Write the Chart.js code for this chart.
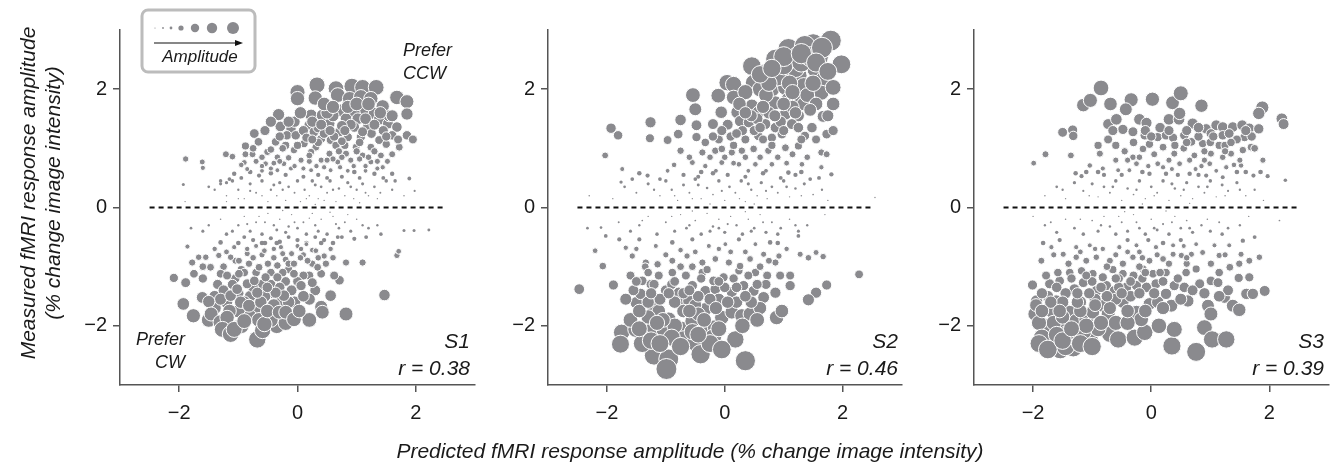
<!DOCTYPE html>
<html>
<head>
<meta charset="utf-8">
<script src="https://cdn.jsdelivr.net/npm/chart.js@4.4.1/dist/chart.umd.min.js"></script>
<style>
body { margin: 0; background: #fff; }
#wrap { position: relative; width: 1338px; height: 465px; overflow: hidden; font-family: "Liberation Sans", Arial, sans-serif; color: #1a1a1a; }
canvas { position: absolute; top: 0; }
.t { position: absolute; font-style: italic; white-space: nowrap; line-height: 1; }
</style>
</head>
<body>
<div id="wrap">
  <canvas id="c1" width="435" height="465"></canvas>
  <canvas id="c2" width="435" height="465"></canvas>
  <canvas id="c3" width="435" height="465"></canvas>

  <div class="t" id="ytitle" style="left:-140px; top:168px; width:360px; height:50px; font-size:21px; line-height:25px; text-align:center; transform:rotate(-90deg);">Measured fMRI response amplitude<br>(% change image intensity)</div>
  <div class="t" style="left:390px; top:440px; width:600px; text-align:center; font-size:21px;">Predicted fMRI response amplitude (% change image intensity)</div>

  <div class="t" style="left:150px; top:48px; width:100px; text-align:center; font-size:17px;">Amplitude</div>
  <div class="t" style="left:403px; top:41px; font-size:18px;">Prefer<br><span style="display:inline-block; margin-top:5px;">CCW</span></div>
  <div class="t" style="left:105px; top:330px; width:80px; text-align:right; font-size:18px;">Prefer<br><span style="display:inline-block; margin-top:5px;">CW</span></div>

  <div class="t" id="lab1" style="top:330px; width:120px; text-align:right; font-size:21px;"></div>
  <div class="t" id="lab2" style="top:330px; width:120px; text-align:right; font-size:21px;"></div>
  <div class="t" id="lab3" style="top:330px; width:120px; text-align:right; font-size:21px;"></div>
</div>

<script>
// subjects and their correlation values
const panelNames = ['S1', 'S2', 'S3'];
const rValues = [0.38, 0.46, 0.39];
const tickValues = [-2, 0, 2];
const zeroLine = [-2.5, 2.5];

const s1Points = [
  [0.33,2.07],[0.65,2.01],[0.92,2.05],[1.10,2.03],[1.33,2.03],[0.68,1.90],[0.88,1.84],[1.07,1.87],[1.24,1.84],[1.68,1.86],
  [1.85,1.79],[1.85,1.58],[0.00,1.95],[0.00,1.84],[1.44,1.71],[0.73,1.64],[0.96,1.62],[1.16,1.64],[1.30,1.59],[-0.32,1.57],
  [0.23,1.56],[0.42,1.56],[0.54,1.42],[0.82,1.50],[1.02,1.50],[1.38,1.49],[-0.29,1.37],[-0.11,1.33],[0.20,1.39],[0.28,1.28],
  [0.71,1.28],[0.96,1.36],[1.19,1.37],[1.53,1.42],[1.68,1.36],[-0.73,1.25],[-0.18,1.22],[-0.03,1.22],[0.40,1.16],[0.56,1.14],
  [0.85,1.19],[1.07,1.19],[1.38,1.14],[1.60,1.22],[1.85,1.22],[1.95,1.15],[-0.66,1.11],[-0.37,1.11],[0.11,1.08],[0.31,1.02],
  [0.65,1.05],[0.99,1.02],[1.24,1.02],[1.50,1.07],[1.72,1.02],[-0.88,1.04],[-0.51,0.94],[-0.06,0.97],[0.23,0.94],[0.54,0.91],
  [0.82,0.91],[1.10,0.88],[1.41,0.88],[-1.21,0.90],[-1.10,0.86],[-0.88,0.90],[-0.76,0.90],[-1.89,0.82],[-1.61,0.77],[-1.60,0.67],
  [-0.90,0.76],[-0.54,0.74],[-0.34,0.85],[-0.23,0.74],[0.06,0.80],[0.40,0.80],[0.68,0.77],[0.90,0.80],[1.24,0.77],[1.60,0.57],
  [1.44,0.68],[-1.07,0.57],[-0.65,0.54],[-0.34,0.63],[-0.11,0.66],[0.23,0.63],[0.56,0.63],[0.96,0.60],[1.30,0.57],[1.89,0.49],
  [-1.93,0.39],[1.98,0.28],[-1.30,0.45],[-1.20,0.42],[-1.15,0.48],[-0.95,0.50],[-0.80,0.60],[-0.60,0.62],[-0.45,0.58],[-0.20,0.55],
  [0.10,0.52],[0.35,0.55],[0.50,0.50],[0.75,0.52],[0.85,0.62],[1.05,0.50],[1.15,0.62],[1.45,0.50],[1.65,0.45],
  [-0.95,0.72],[-0.85,0.65],[-0.70,0.78],[-0.60,0.70],[-0.45,0.66],[-0.30,0.78],[-0.15,0.84],[-0.05,0.70],[0.10,0.66],[0.20,0.78],
  [0.32,0.70],[0.45,0.68],[0.60,0.82],[0.72,0.68],[0.95,0.70],[1.05,0.82],[1.15,0.70],[1.35,0.66],[1.52,0.78],
  [-0.55,1.30],[-0.45,1.45],[-0.05,1.45],[0.10,1.30],[0.35,1.35],[0.45,1.25],[0.60,1.55],[0.62,1.20],[0.80,1.05],[0.90,1.40],
  [1.15,1.50],[1.25,1.25],[1.45,1.30],[1.55,1.55],[-0.20,1.05],[-0.45,0.98],
  [0.25,1.45],[0.50,1.60],[0.55,1.30],[0.75,1.38],[0.85,1.70],[1.00,1.75],[1.20,1.75],[1.10,1.28],[1.30,1.40],[1.50,1.20],
  [1.70,1.15],[0.15,1.18],[0.35,1.10],[0.75,1.12],[1.00,0.95],[1.30,0.95],[1.60,0.90],[-0.25,1.00],[0.00,1.05],[-0.60,0.85],
  [-0.30,1.20],[0.20,0.88],[0.50,0.80],[0.75,0.85],[1.35,0.78],
  [0.30,1.85],[0.45,1.75],[0.60,1.70],[0.80,1.30],[1.40,1.60],[1.60,1.55],[0.40,1.40],[1.05,1.10],[0.25,1.15],[-0.15,1.45],
  [0.05,1.60],[0.70,0.95],[1.20,0.85],[-0.75,1.00],[-0.40,0.75],
  [-1.50,0.35],[-1.40,0.30],[-1.30,0.40],[-1.20,0.20],[-1.10,0.45],[-1.00,0.30],[-0.90,0.15],[-0.80,0.40],[-0.70,0.25],[-0.60,0.45],
  [-0.50,0.10],[-0.45,0.30],[-0.35,0.20],[-0.30,0.42],[-0.20,0.12],[-0.15,0.35],[-0.05,0.25],[0.00,0.45],[0.05,0.10],[0.12,0.30],
  [0.20,0.20],[0.25,0.45],[0.35,0.15],[0.40,0.35],[0.50,0.25],[0.55,0.45],[0.65,0.10],[0.70,0.32],[0.80,0.20],[0.85,0.42],
  [0.95,0.15],[1.00,0.30],[1.10,0.40],[1.20,0.20],[1.30,0.35],[1.40,0.25],[1.50,0.45],[1.60,0.30],[1.80,0.20],[-1.90,0.10],
  [-1.20,0.10],[0.30,0.05],[1.05,0.08],
  [-1.00,0.15],[-0.60,0.20],[-0.25,0.30],[0.15,0.15],[0.45,0.12],[0.60,0.30],[0.90,0.35],[1.15,0.25],[1.35,0.15],[-0.80,0.28],
  [-0.40,0.38],[0.30,0.38],
  [-1.80,-0.35],[-1.60,-0.40],[-1.50,-0.30],[-1.30,-0.20],[-1.20,-0.45],[-1.00,-0.30],[-0.90,-0.15],[-0.80,-0.40],[-0.70,-0.25],[-0.60,-0.45],
  [-0.50,-0.10],[-0.40,-0.30],[-0.30,-0.20],[-0.20,-0.42],[-0.10,-0.12],[0.00,-0.35],[0.10,-0.25],[0.15,-0.45],[0.25,-0.10],[0.30,-0.30],
  [0.40,-0.20],[0.50,-0.45],[0.60,-0.15],[0.70,-0.35],[0.80,-0.25],[0.90,-0.40],[1.00,-0.20],[1.20,-0.35],[1.35,-0.30],[1.80,-0.39],
  [1.97,-0.39],[2.22,-0.38],[-0.25,-0.05],[0.55,-0.08],
  [-0.55,-0.25],[-0.35,-0.38],[-0.05,-0.25],[0.20,-0.18],[0.35,-0.40],[0.65,-0.28],[0.85,-0.12],[-0.85,-0.28],[-1.10,-0.40],[-0.15,-0.32],
  [1.10,-0.30],[-0.65,-0.15],
  [-0.90,-0.50],[-0.75,-0.55],[-0.60,-0.60],[-0.45,-0.52],[-0.30,-0.58],[-0.15,-0.50],[0.00,-0.55],[0.15,-0.60],[0.30,-0.50],[0.45,-0.55],
  [0.60,-0.60],[0.75,-0.50],[-0.40,-0.85],[-0.20,-0.88],[0.10,-0.80],[0.60,-0.85],[-0.95,-1.05],[-0.15,-1.05],[0.20,-1.15],[-0.45,-1.30],
  [0.30,-1.40],[-0.30,-1.60],[-0.05,-1.60],[0.20,-1.55],[-0.70,-1.75],[-1.00,-1.75],
  [-1.60,-1.20],[-1.35,-1.30],[-1.20,-1.60],[-1.05,-1.20],[-0.80,-1.50],[-0.60,-1.30],[-0.40,-1.45],[-0.10,-1.40],[0.10,-1.50],[-0.20,-1.25],
  [-0.75,-0.85],[-0.50,-0.95],[-0.25,-0.78],[0.05,-0.85],[0.25,-0.72],[0.45,-0.82],[-1.20,-0.75],[-1.00,-0.60],[-0.70,-0.65],[-0.40,-0.70],
  [0.15,-0.62],[0.40,-0.60],[-1.40,-1.50],[-0.95,-2.00],[-0.35,-2.00],[0.20,-1.90],[-1.50,-1.90],
  [-1.10,-1.30],[-0.90,-1.10],[-0.75,-1.35],[-0.55,-1.50],[-0.30,-1.35],[-0.15,-1.60],[0.10,-1.15],[-1.25,-1.40],[-1.40,-1.70],[-1.15,-1.75],
  [-0.80,-1.85],[-0.45,-1.90],[-0.20,-1.95],[-0.60,-0.80],[-0.35,-0.60],[-0.10,-0.78],[0.25,-0.95],[-0.85,-0.78],[-1.40,-0.70],[-1.60,-1.00],
  [-1.25,-1.00],[-1.00,-1.45],[-0.70,-1.10],[-0.45,-1.10],[-0.25,-1.10],[0.00,-1.25],[-0.90,-1.60],[-0.65,-1.90],[-0.40,-1.65],[-1.30,-1.55],
  [-1.05,-0.90],[-0.55,-0.60],[0.00,-0.65],[0.35,-0.85],[-0.15,-0.95],
  [-2.09,-1.19],[-1.89,-1.27],[-1.93,-1.63],[-1.76,-1.83],[-1.61,-1.52],[-1.50,-1.59],[-1.46,-1.80],[-1.30,-1.94],[-1.19,-1.86],[-1.27,-2.06],
  [-1.13,-2.14],[-1.07,-2.06],[-0.90,-1.92],[-0.68,-2.23],[-0.59,-2.08],[-0.56,-1.97],[-0.96,-1.60],[-0.82,-1.66],[-0.62,-1.60],[-0.51,-1.75],
  [-0.31,-1.77],[-0.20,-1.77],[-0.06,-1.89],[0.03,-1.75],[-0.23,-1.49],[-0.37,-1.44],[-1.13,-1.49],[-1.02,-1.38],[-0.85,-1.29],[-0.68,-1.44],
  [-0.51,-1.35],[0.40,-1.68],[0.42,-1.77],[0.82,-1.80],[0.56,-1.49],[0.06,-1.32],[0.25,-1.27],[1.47,-1.48],[0.71,-1.23],[0.62,-1.15],
  [0.40,-1.12],[-0.06,-1.12],[-0.34,-1.18],[-0.54,-1.18],[-0.73,-1.24],[-0.99,-1.12],[-1.30,-1.12],[-1.19,-1.15],[-1.75,-1.12],[-1.47,-1.01],
  [-1.78,-0.93],[-1.67,-0.84],[-1.55,-0.84],[-1.33,-0.81],[-1.13,-0.84],[-0.99,-0.90],[-0.82,-0.95],[-0.65,-1.01],[-0.34,-0.98],[-0.06,-0.95],
  [0.17,-0.90],[0.34,-1.01],[0.48,-0.95],[0.82,-0.93],[1.10,-0.93],[1.68,-0.81],[1.71,-0.74],[-1.86,-0.66],[-1.30,-0.59],[-1.07,-0.67],
  [-0.85,-0.70],[-0.56,-0.73],[-0.28,-0.67],[0.06,-0.70],[0.31,-0.73],[0.56,-0.70],[0.68,-0.50],[0.96,-0.53],[1.16,-0.50],[1.41,-0.45]
];

const s2Points = [
  [1.80,2.82],[1.50,2.76],[1.08,2.68],[1.22,2.54],[0.86,2.51],[1.59,2.54],[1.98,2.42],[1.36,2.73],[0.46,2.39],[0.69,2.28],
  [0.97,2.25],[1.25,2.23],[1.55,2.34],[1.69,2.17],[0.04,2.11],[0.15,2.08],[0.49,2.11],[0.60,2.00],[0.80,2.00],[1.03,2.03],
  [1.34,2.06],[1.64,1.94],[1.84,2.03],[1.84,1.75],[-0.54,1.90],[-0.11,1.89],[0.15,1.86],[-0.50,1.66],[-0.06,1.61],[0.21,1.61],
  [0.46,1.72],[0.57,1.61],[0.86,1.77],[1.08,1.83],[1.19,1.86],[1.34,1.75],[1.03,1.58],[1.25,1.55],[1.67,1.54],[-0.75,1.48],
  [-1.26,1.44],[-0.48,1.39],[-0.20,1.41],[0.26,1.46],[0.41,1.44],[0.69,1.41],[0.86,1.35],[1.14,1.41],[1.48,1.35],[-1.93,1.34],
  [-1.81,1.22],[-1.27,1.17],[-0.97,1.14],[-0.79,1.24],[-0.48,1.19],[-0.33,1.10],[0.10,1.20],[0.35,1.15],[0.57,1.21],[0.80,1.18],
  [0.97,1.24],[1.36,1.21],[1.73,1.24],[1.84,1.30],[-0.75,0.96],[-0.38,0.93],[-0.16,0.96],[-0.05,0.99],[0.12,0.93],[0.29,0.96],
  [0.49,0.99],[0.74,0.96],[1.03,1.01],[1.25,1.04],[1.64,0.93],[1.73,0.90],[-2.03,0.88],[-0.55,0.76],[-0.33,0.70],[-0.05,0.76],
  [0.24,0.73],[0.52,0.73],[0.80,0.73],[1.08,0.59],[1.31,0.73],[1.64,0.68],[1.81,0.56],[-0.86,0.72],[-0.97,0.62],[-1.74,0.65],
  [-1.45,0.58],[-1.31,0.54],[-1.76,0.43],[-1.57,0.48],[2.55,0.17],
  [0.30,1.30],[0.55,1.50],[0.75,1.60],[0.95,1.45],[1.15,1.70],[1.40,1.90],[1.50,2.10],[1.20,2.35],[0.90,2.20],[0.70,1.90],
  [0.35,1.95],[0.25,1.75],[1.00,1.30],[1.30,1.15],[0.65,1.15],[0.15,1.05],[-0.10,1.15],[-0.25,0.85],[0.00,0.85],[0.35,0.85],
  [0.60,0.85],[0.90,0.85],[1.15,0.90],[1.40,0.85],[-0.60,0.85],[-0.15,0.62],[0.40,0.62],[0.70,0.62],[1.30,0.60],
  [0.75,2.10],[1.00,2.40],[1.30,2.45],[1.45,2.55],[1.65,2.70],[0.60,2.25],[1.10,2.10],[1.55,1.75],[1.20,1.60],[0.85,1.55],
  [0.45,1.55],[0.05,1.40],[-0.20,1.20],[0.50,1.30],[0.80,1.05],[1.55,1.15],[1.05,0.75],[0.15,0.75],[-0.40,0.60],[1.60,0.50],
  [1.00,2.55],[1.30,2.60],[1.55,2.45],[1.75,2.30],[0.80,2.35],[1.15,1.95],[1.45,1.65],[1.00,1.75],[0.65,1.70],[0.35,1.60],
  [1.75,1.55],[1.25,1.35],[0.60,1.35],[-0.05,1.30],[0.20,1.25],
  [-0.70,0.55],[-0.45,0.52],[-0.20,0.58],[0.05,0.55],[0.35,0.52],[0.65,0.58],[0.95,0.50],[1.20,0.55],[1.45,0.48],[-1.10,0.48],
  [-2.30,0.20],[-1.90,0.15],[-1.70,0.35],[-1.50,0.25],[-1.30,0.40],[-1.10,0.20],[-1.00,0.45],[-0.90,0.30],[-0.80,0.12],[-0.70,0.38],
  [-0.60,0.25],[-0.50,0.48],[-0.40,0.15],[-0.30,0.33],[-0.20,0.22],[-0.10,0.45],[0.00,0.12],[0.08,0.35],[0.18,0.25],[0.28,0.45],
  [0.35,0.10],[0.45,0.30],[0.55,0.20],[0.62,0.42],[0.72,0.15],[0.80,0.35],[0.90,0.25],[1.00,0.45],[1.10,0.18],[1.20,0.32],
  [1.35,0.40],[1.50,0.22],[1.65,0.30],[1.75,0.12],[-0.25,0.06],[0.50,0.06],
  [-1.20,0.30],[-0.85,0.20],[-0.45,0.38],[-0.05,0.28],[0.25,0.15],[0.70,0.28],[1.05,0.35],[1.30,0.20],[-0.55,0.15],[0.40,0.40],
  [-2.33,-0.35],[-2.10,-0.34],[-1.80,-0.25],[-1.60,-0.40],[-1.45,-0.30],[-1.30,-0.15],[-1.15,-0.45],[-1.00,-0.25],[-0.85,-0.40],[-0.75,-0.12],
  [-0.65,-0.35],[-0.50,-0.22],[-0.40,-0.45],[-0.30,-0.10],[-0.20,-0.32],[-0.10,-0.20],[0.00,-0.42],[0.10,-0.15],[0.20,-0.30],[0.30,-0.45],
  [0.40,-0.20],[0.50,-0.35],[0.60,-0.12],[0.70,-0.42],[0.80,-0.25],[0.95,-0.35],[1.10,-0.20],[1.25,-0.40],[1.40,-0.30],[1.70,-0.12],
  [-0.55,-0.06],[0.35,-0.07],
  [-1.40,-0.22],[-0.90,-0.15],[-0.60,-0.30],[-0.25,-0.40],[0.05,-0.28],[0.45,-0.40],[0.65,-0.25],[0.90,-0.45],[1.20,-0.30],[-0.10,-0.35],
  [-2.47,-1.38],[-1.89,-1.31],[-2.07,-0.99],[-2.20,-0.73],[2.28,-1.13],[1.73,-1.31],[1.55,-1.44],[1.42,-1.56],[1.28,-0.79],[1.42,-0.85],
  [1.55,-0.76],[1.67,-0.83],[-1.75,-2.11],[-1.77,-2.31],[-1.51,-2.06],[-1.37,-2.11],[-1.20,-2.50],[-0.95,-2.56],[-0.99,-2.73],[-1.20,-2.03],
  [-1.03,-2.06],[-0.95,-1.89],[-0.72,-2.06],[-0.70,-2.23],[-0.50,-2.28],[-0.41,-2.48],[-0.55,-1.92],[-0.33,-2.06],[-0.16,-2.03],[-0.05,-1.86],
  [0.18,-2.23],[0.35,-2.59],[0.12,-1.77],[0.29,-1.83],[0.43,-1.80],[0.88,-1.86],[0.97,-1.75],[-1.50,-1.61],[-1.68,-1.55],[-1.43,-1.46],
  [-1.23,-1.66],[-1.12,-1.75],[-0.78,-1.61],[-0.61,-1.58],[-0.33,-1.72],[-0.78,-1.44],[-0.55,-1.32],[-0.33,-1.41],[-0.16,-1.38],[0.12,-1.43],
  [0.32,-1.32],[0.49,-1.41],[0.66,-1.52],[0.86,-1.44],[1.11,-1.32],[-1.60,-1.15],[-1.40,-1.24],[-1.12,-1.15],[-0.89,-1.10],[-0.66,-1.15],
  [-0.38,-1.10],[-0.19,-1.24],[-0.02,-1.18],[0.24,-1.07],[0.52,-1.10],[0.72,-1.15],[0.94,-1.15],[1.11,-1.15],[-1.57,-0.82],[-1.34,-0.93],
  [-1.14,-0.96],[-0.89,-0.90],[-0.64,-0.82],[-0.38,-0.93],[-0.16,-0.87],[0.07,-0.93],[0.26,-0.99],[0.43,-0.87],[0.66,-0.79],[0.86,-0.93],
  [0.92,-0.82],[-1.79,-0.54],[-1.68,-0.68],[-1.45,-0.54],[-1.17,-0.65],[-0.89,-0.59],[-0.55,-0.54],[-0.27,-0.65],[0.01,-0.62],[0.24,-0.54],
  [0.52,-0.62],[0.77,-0.59],[1.05,-0.70],[1.25,-0.48],[-2.02,-0.48],
  [-1.00,-1.40],[-0.50,-1.65],[-0.10,-1.55],[0.60,-1.70],[-1.30,-1.85],[-0.85,-2.00],[-0.20,-2.20],[0.10,-0.75],[-0.75,-0.72],[-1.25,-1.30],
  [-1.60,-1.90],[-1.45,-1.75],[-1.10,-1.55],[-0.90,-1.30],[-0.70,-1.75],[-0.45,-1.80],[-0.25,-1.55],[0.00,-1.35],[0.20,-1.60],[0.45,-1.60],
  [0.70,-1.30],[-1.20,-1.30],[-1.35,-1.00],[-1.00,-0.80],[-0.75,-1.00],[-0.50,-0.75],[-0.30,-1.05],[0.15,-1.20],[0.35,-0.75],[0.60,-1.00],
  [-0.90,-2.20],[-0.55,-2.10],[-0.25,-2.30],[-1.40,-2.30],[-0.10,-0.70],[0.90,-0.60],
  [-1.55,-1.40],[-1.30,-1.60],[-1.05,-1.90],[-0.85,-1.60],[-0.60,-1.75],[-0.35,-1.90],[-0.10,-2.05],[0.30,-2.00],[0.55,-1.90],[-1.25,-2.25],
  [-0.70,-1.45],[-0.45,-1.50],[0.05,-1.60],[0.35,-1.50],[-1.30,-1.10],[-0.85,-1.25],[-0.55,-1.00],[0.40,-1.15],[0.75,-0.90],[-1.50,-0.70],
  [-1.50,-1.25],[-1.25,-1.45],[-0.95,-1.45],[-0.60,-1.40],[-0.40,-1.20],[-0.10,-1.25],[0.20,-1.35],[0.55,-1.30],[-1.10,-2.30],[-0.75,-2.35],
  [-0.45,-2.15],[-0.05,-2.40],[-1.45,-2.05],[-1.15,-1.95],[-0.15,-1.70]
];

const s3Points = [
  [-0.85,2.02],[-1.15,1.73],[-1.03,1.81],[-0.69,1.75],[-0.34,1.82],[0.02,1.83],[0.36,1.77],[0.50,1.93],[0.85,1.72],[-0.43,1.66],
  [1.88,1.69],[1.82,1.59],[2.21,1.50],[2.24,1.41],[-0.73,1.41],[-0.59,1.49],[-0.20,1.49],[-0.08,1.43],[0.30,1.49],[0.47,1.49],
  [0.48,1.59],[0.70,1.42],[0.93,1.33],[1.10,1.39],[1.21,1.36],[1.38,1.36],[1.54,1.39],[1.66,1.34],[1.82,1.33],[-1.50,1.27],
  [-1.33,1.31],[-1.32,1.21],[-0.73,1.15],[-0.48,1.32],[-0.31,1.28],[-0.11,1.22],[0.11,1.19],[0.25,1.22],[0.37,1.18],[0.56,1.22],
  [0.68,1.11],[0.87,1.08],[1.01,1.25],[1.21,1.22],[1.32,1.25],[1.58,1.19],[1.69,1.02],[1.55,0.97],[-0.14,0.99],[-0.03,1.07],
  [0.20,1.02],[0.39,0.91],[0.73,0.88],[1.01,0.91],[1.21,0.85],[1.35,0.91],[1.89,0.80],[-1.79,0.90],[-1.99,0.75],[-1.36,0.88],
  [-0.87,0.91],[-0.31,0.85],[-0.25,0.74],[0.11,0.74],[0.48,0.74],[0.65,0.80],[0.99,0.74],[1.27,0.68],[1.52,0.71],[-1.04,0.71],
  [-0.82,0.66],[-0.56,0.63],[-0.37,0.63],[-0.03,0.57],[0.25,0.57],[0.65,0.57],[0.93,0.54],[1.21,0.51],[1.73,0.54],[1.97,0.53],
  [2.27,0.46],[-1.28,0.58],[-1.18,0.53],
  [-0.45,0.95],[0.05,0.90],[0.55,1.00],[1.15,1.05],[-0.60,0.80],[0.30,0.80],[0.85,0.70],[1.45,0.60],[-0.15,0.60],[0.45,0.55],
  [0.60,1.30],[0.80,1.20],[1.00,1.10],[1.25,1.05],[1.45,1.15],[1.70,1.20],[0.15,1.35],[-0.10,1.30],[-0.65,1.30],[-0.90,1.05],
  [0.40,1.05],[0.90,0.95],[1.50,0.80],[-0.40,0.80],[-0.80,0.55],[0.20,0.68],[0.75,0.65],[1.10,0.62],[1.60,0.60],[-1.10,0.60],
  [-0.30,1.10],[0.00,1.20],[0.30,1.30],[0.60,1.10],[0.80,1.35],[1.05,1.20],[1.35,1.10],[1.60,1.30],[1.75,1.00],[1.25,0.95],
  [-0.60,1.05],[-0.20,0.85],[0.35,0.65],[0.90,0.80],[1.40,0.72],[-0.05,0.70],[-0.90,0.60],[-0.50,0.55],[0.80,0.55],[1.85,0.60],
  [-1.80,0.20],[-1.60,0.35],[-1.45,0.15],[-1.30,0.42],[-1.15,0.28],[-1.00,0.40],[-0.90,0.18],[-0.80,0.35],[-0.70,0.25],[-0.60,0.45],
  [-0.50,0.12],[-0.40,0.32],[-0.30,0.22],[-0.20,0.45],[-0.10,0.15],[0.00,0.35],[0.10,0.25],[0.20,0.45],[0.30,0.12],[0.40,0.32],
  [0.50,0.20],[0.60,0.42],[0.70,0.15],[0.80,0.35],[0.90,0.25],[1.00,0.45],[1.10,0.18],[1.20,0.38],[1.30,0.28],[1.45,0.42],
  [1.60,0.20],[1.75,0.30],[1.90,0.12],[-0.15,0.06],[0.65,0.07],
  [-1.50,0.30],[-1.05,0.20],[-0.65,0.35],[-0.25,0.30],[0.05,0.20],[0.35,0.40],[0.55,0.30],[0.95,0.35],[1.25,0.20],[1.50,0.30],
  [-2.00,-0.15],[-1.80,-0.30],[-1.60,-0.42],[-1.45,-0.20],[-1.30,-0.35],[-1.15,-0.45],[-1.00,-0.22],[-0.90,-0.40],[-0.80,-0.15],[-0.70,-0.32],
  [-0.60,-0.45],[-0.50,-0.25],[-0.40,-0.40],[-0.30,-0.12],[-0.20,-0.35],[-0.10,-0.45],[0.00,-0.20],[0.10,-0.38],[0.20,-0.28],[0.30,-0.45],
  [0.40,-0.15],[0.50,-0.35],[0.60,-0.22],[0.70,-0.42],[0.85,-0.30],[1.00,-0.40],[1.15,-0.25],[1.30,-0.35],[1.50,-0.30],[1.65,-0.15],
  [-0.45,-0.07],[0.25,-0.06],[2.17,-0.22],
  [-1.70,-0.25],[-1.20,-0.20],[-0.85,-0.30],[-0.55,-0.15],[-0.25,-0.25],[0.05,-0.35],[0.35,-0.25],[0.65,-0.35],[0.95,-0.20],[1.20,-0.45],
  [-2.01,-1.31],[-1.94,-1.58],[-1.97,-1.80],[-1.80,-2.14],[-1.82,-2.34],[-1.63,-2.31],[-1.54,-2.40],[-1.38,-2.25],[-1.30,-2.20],[-1.32,-2.37],
  [-1.04,-2.25],[-0.70,-2.14],[-0.56,-2.23],[-0.28,-2.20],[-0.11,-2.11],[0.13,-2.00],[0.35,-2.34],[0.39,-2.06],[0.76,-2.44],[0.90,-2.03],
  [1.03,-2.23],[1.27,-2.23],[-1.80,-2.00],[-1.69,-1.75],[-1.61,-1.58],[-1.38,-1.77],[-1.27,-1.92],[-1.10,-1.89],[-0.99,-1.77],[-0.82,-1.66],
  [-0.73,-1.80],[-0.48,-1.60],[-0.25,-1.77],[-0.17,-1.89],[-0.03,-1.63],[0.11,-1.60],[0.34,-1.66],[0.62,-1.58],[0.96,-1.66],[1.01,-1.80],
  [1.24,-1.52],[1.38,-1.66],[1.49,-1.73],[1.61,-1.46],[1.72,-1.46],[1.92,-1.41],[-1.72,-1.29],[-1.55,-1.24],[-1.30,-1.38],[-1.15,-1.27],
  [-0.93,-1.41],[-0.76,-1.32],[-0.62,-1.41],[-0.42,-1.35],[-0.25,-1.32],[-0.08,-1.35],[0.08,-1.29],[0.25,-1.46],[0.39,-1.32],[0.56,-1.35],
  [0.82,-1.29],[1.01,-1.24],[1.13,-1.27],[1.48,-1.19],[1.66,-1.18],[-1.78,-1.15],[-1.58,-1.10],[-1.38,-1.10],[-1.18,-1.07],[-0.99,-1.12],
  [-0.82,-1.18],[-0.48,-1.12],[-0.14,-1.04],[0.03,-1.12],[0.25,-1.10],[0.59,-1.10],[0.76,-1.04],[1.01,-0.95],[1.15,-1.10],[1.33,-1.01],
  [1.49,-0.95],[1.66,-0.90],[-1.86,-0.90],[-1.49,-0.79],[-1.27,-0.84],[-1.10,-0.90],[-0.93,-0.84],[-0.70,-0.90],[-0.48,-0.95],[-0.31,-0.84],
  [-0.03,-0.90],[0.20,-0.87],[0.37,-0.79],[0.51,-0.81],[0.68,-0.79],[0.87,-0.76],[1.15,-0.81],[1.52,-0.79],[1.83,-0.84],[-1.69,-0.67],
  [-1.83,-0.60],[-1.55,-0.55],[-1.27,-0.67],[-1.04,-0.64],[-0.82,-0.70],[-0.54,-0.67],[-0.25,-0.64],[0.08,-0.67],[0.37,-0.64],[0.76,-0.62],
  [1.07,-0.64],[1.32,-0.64],[1.55,-0.56],[1.75,-0.50],
  [-1.55,-2.05],[-1.20,-1.60],[-0.60,-1.95],[-0.90,-2.05],[-1.45,-1.45],[0.60,-0.95],[-0.65,-1.05],[-0.20,-1.00],[0.20,-0.60],[-0.40,-0.55],
  [-1.75,-1.50],[-1.50,-1.60],[-1.20,-1.75],[-0.95,-1.55],[-0.60,-1.55],[-0.35,-1.50],[-0.85,-1.95],[-1.70,-2.25],[-1.45,-2.15],[-1.15,-2.10],
  [-1.65,-1.95],[-1.90,-1.95],[-1.85,-1.45],[-0.15,-1.20],[0.45,-1.20],[0.70,-1.40],[1.30,-1.40],[-1.00,-1.25],[-0.55,-1.20],[-1.40,-0.95],
  [-0.75,-1.00],[-0.20,-0.75],[0.55,-0.65],[1.25,-0.80],[-1.65,-0.80],[0.05,-1.45],[-0.40,-1.95],
  [-1.85,-2.20],[-1.60,-2.15],[-1.45,-2.35],[-1.20,-2.30],[-1.50,-1.85],[-1.25,-1.60],[-1.05,-1.45],[-1.70,-1.60],[-1.95,-1.65],[-1.10,-2.00],
  [-0.70,-1.70],[-0.40,-1.75],[-0.10,-1.75],[0.20,-1.70],[0.50,-1.55],[-0.55,-1.35],[-0.30,-1.15],[0.15,-1.10],[0.90,-1.45],[1.15,-1.50],
  [-1.90,-2.30],[-1.75,-2.40],[-1.50,-2.25],[-1.35,-2.05],[-1.00,-2.35],[-1.85,-1.75],[-1.55,-1.75],[-1.25,-1.45],[-0.95,-1.65],[-0.75,-1.50],
  [-1.60,-1.35],[-1.35,-1.20],[-1.10,-1.15],[-0.85,-1.35],[-0.60,-1.20],[-0.35,-1.25],[-0.10,-1.10],[0.20,-1.25],[-0.50,-1.45],[-0.20,-1.45],
  [-1.20,-0.75],[-0.95,-0.70],[-0.60,-0.80],[-0.40,-0.75],[-0.15,-0.85],[0.10,-0.80],[0.30,-0.95],[0.60,-0.85],[-0.05,-0.55],[0.50,-0.55]
];

const allPoints = [s1Points, s2Points, s3Points];
const areaLeft = [120, 548, 974];
const yAxisW = 70;

function dotRadius(ctx) {
  const v = ctx.raw ? Math.abs(ctx.raw.y) : 0;
  return Math.min(10.5, Math.max(0.7, 3.9 * v));
}
function dotBorder(ctx) {
  return dotRadius(ctx) > 2.4 ? 1 : 0;
}
function minusSign(v) {
  return String(v).replace('-', '\u2212');
}

// small amplitude key in the first panel
const legendBox = {
  id: 'legendBox',
  afterDraw(chart) {
    const c = chart.ctx;
    const ox = areaLeft[0] - yAxisW;
    c.save();
    const x0 = 142 - ox, y0 = 10, w = 113, h = 62, r = 6;
    c.beginPath();
    c.moveTo(x0 + r, y0);
    c.lineTo(x0 + w - r, y0);
    c.arcTo(x0 + w, y0, x0 + w, y0 + r, r);
    c.lineTo(x0 + w, y0 + h - r);
    c.arcTo(x0 + w, y0 + h, x0 + w - r, y0 + h, r);
    c.lineTo(x0 + r, y0 + h);
    c.arcTo(x0, y0 + h, x0, y0 + h - r, r);
    c.lineTo(x0, y0 + r);
    c.arcTo(x0, y0, x0 + r, y0, r);
    c.closePath();
    c.lineWidth = 3;
    c.strokeStyle = '#bcbcbc';
    c.stroke();

    const dx = [155, 163, 171, 181, 195, 212, 233];
    const dr = [0.6, 0.9, 1.4, 2.6, 4.2, 5.2, 6.0];
    c.fillStyle = '#8a8a8e';
    dx.forEach((x, i) => {
      c.beginPath();
      c.arc(x - ox, 28, dr[i], 0, Math.PI * 2);
      c.fill();
    });

    c.strokeStyle = '#111';
    c.fillStyle = '#111';
    c.lineWidth = 1.2;
    c.beginPath();
    c.moveTo(154 - ox, 43);
    c.lineTo(238 - ox, 43);
    c.stroke();
    c.beginPath();
    c.moveTo(243 - ox, 43);
    c.lineTo(235 - ox, 40);
    c.lineTo(235 - ox, 46);
    c.closePath();
    c.fill();
    c.restore();
  }
};

function axisOpts(fitKey, fitVal, pad) {
  return {
    type: 'linear',
    min: -3,
    max: 3,
    afterBuildTicks: s => { s.ticks = tickValues.map(v => ({ value: v })); },
    afterFit: s => { s[fitKey] = fitVal; },
    border: { display: true, color: '#555', width: 1.5 },
    grid: { display: true, drawOnChartArea: false, drawTicks: true, tickLength: 7, color: '#555', lineWidth: 1.5 },
    ticks: {
      color: '#1a1a1a',
      font: { size: 20, family: '"Liberation Sans", Arial, sans-serif' },
      padding: pad,
      callback: v => minusSign(v)
    }
  };
}

allPoints.forEach((pts, i) => {
  const cv = document.getElementById('c' + (i + 1));
  cv.style.left = (areaLeft[i] - yAxisW) + 'px';

  const lab = document.getElementById('lab' + (i + 1));
  lab.style.left = (areaLeft[i] + 350 - 120) + 'px';
  lab.innerHTML = panelNames[i] + '<br><span style="display:inline-block; margin-top:6px;">r = ' + rValues[i].toFixed(2) + '</span>';

  new Chart(cv, {
    type: 'scatter',
    data: {
      datasets: [
        {
          type: 'line',
          data: zeroLine.map(x => ({ x: x, y: 0 })),
          borderColor: '#111',
          borderWidth: 2,
          borderDash: [5, 4],
          pointRadius: 0,
          order: 0
        },
        {
          data: pts.map(p => ({ x: p[0], y: p[1] })),
          backgroundColor: '#8a8a8e',
          borderColor: '#ffffff',
          pointRadius: dotRadius,
          pointBorderWidth: dotBorder,
          order: 1
        }
      ]
    },
    options: {
      responsive: false,
      animation: false,
      events: [],
      layout: { padding: { left: 0, right: 10, top: 30, bottom: 0 } },
      plugins: { legend: { display: false }, tooltip: { enabled: false } },
      scales: {
        x: axisOpts('height', 80, 9),
        y: axisOpts('width', yAxisW, 6)
      }
    },
    plugins: i === 0 ? [legendBox] : []
  });
});
</script>
</body>
</html>
